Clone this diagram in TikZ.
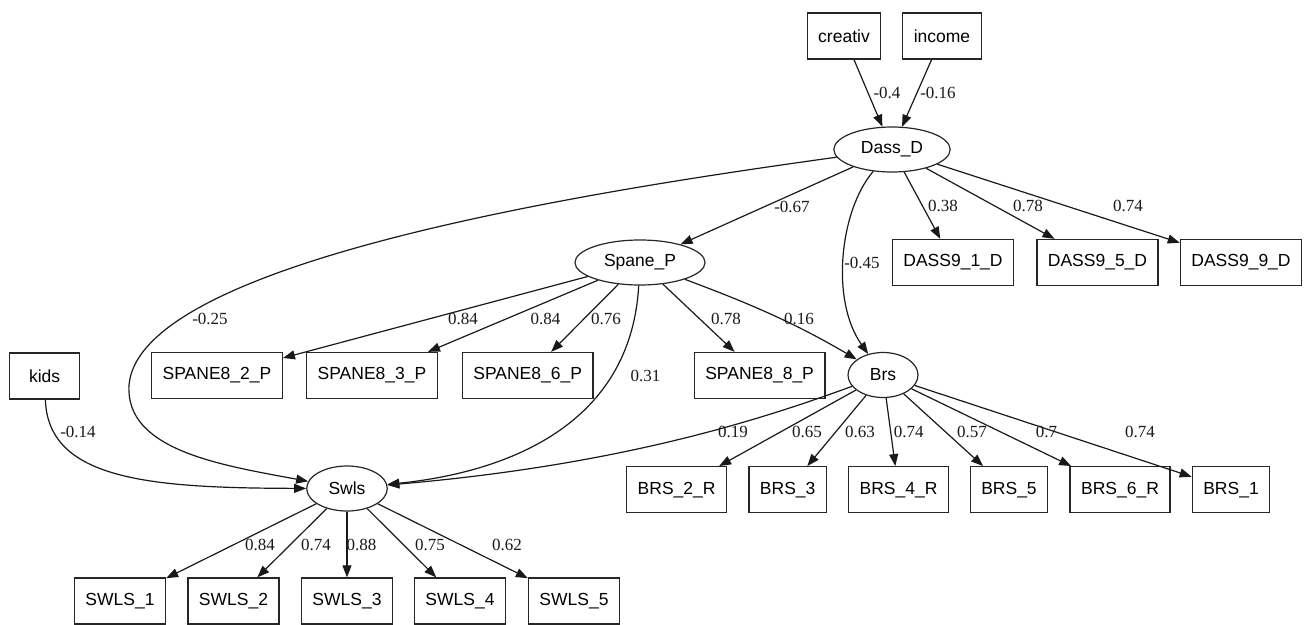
\documentclass[tikz,border=0pt]{standalone}
\usepackage{fontspec}
\setmainfont{Liberation Serif}
\newfontfamily\boxfont{Liberation Sans}
\usetikzlibrary{shapes.geometric}
\usetikzlibrary{arrows.meta}

\tikzset{
  obs/.style={draw=black!85, line width=1.3pt, rectangle, minimum width=70pt,
    minimum height=46pt, inner xsep=11pt, font=\boxfont\fontsize{17.5}{20}\selectfont},
  latent/.style={draw=black!85, line width=1.2pt, ellipse, minimum width=70pt,
    minimum height=45pt, inner xsep=10pt, inner ysep=0pt, font=\boxfont\fontsize{17.5}{20}\selectfont},
  wt/.style={font=\fontsize{17}{20}\selectfont, inner sep=1pt, text=black!90},
  link/.style={->, line width=1.2pt, black!90},
}

\begin{document}
\begin{tikzpicture}[x=1pt, y=-1pt, >={Triangle[length=12pt,width=9pt]}]
        \useasboundingbox (0,0) rectangle (1306,624);

        % exogenous
        \node[obs] (creativ) at (844,36) {creativ};
        \node[obs] (income) at (942,36) {income};
        \node[obs] (kids) at (44.6,376) {kids};

        % latent factors
        \node[latent] (dassd) at (892,149.5) {Dass\_D};
        \node[latent] (spanep) at (640,262.5) {Spane\_P};
        \node[latent] (brs) at (883,375) {Brs};
        \node[latent] (swls) at (347,488.5) {Swls};

        % indicators
        \node[obs] (dass1) at (953,262.5) {DASS9\_1\_D};
        \node[obs] (dass5) at (1097.5,262.5) {DASS9\_5\_D};
        \node[obs] (dass9) at (1241,262.5) {DASS9\_9\_D};

        \node[obs] (sp2) at (217,375.5) {SPANE8\_2\_P};
        \node[obs] (sp3) at (372,375.5) {SPANE8\_3\_P};
        \node[obs] (sp6) at (527.7,375.5) {SPANE8\_6\_P};
        \node[obs] (sp8) at (759.6,375.5) {SPANE8\_8\_P};

        \node[obs] (brs2r) at (676.6,489.7) {BRS\_2\_R};
        \node[obs] (brs3) at (787.7,489.7) {BRS\_3};
        \node[obs] (brs4r) at (898.5,489.7) {BRS\_4\_R};
        \node[obs] (brs5) at (1009,489.7) {BRS\_5};
        \node[obs] (brs6r) at (1120,489.7) {BRS\_6\_R};
        \node[obs] (brs1) at (1231,489.7) {BRS\_1};

        \node[obs] (swls1) at (120,601) {SWLS\_1};
        \node[obs] (swls2) at (233.5,601) {SWLS\_2};
        \node[obs] (swls3) at (347,601) {SWLS\_3};
        \node[obs] (swls4) at (460,601) {SWLS\_4};
        \node[obs] (swls5) at (574,601) {SWLS\_5};

        \draw[link] (creativ) -- (dassd) node[wt] at (887,93) {-0.4};
        \draw[link] (income) -- (dassd) node[wt] at (938,93) {-0.16};

        \draw[link] (dassd) -- (dass1) node[wt] at (943,206) {0.38};
        \draw[link] (dassd) -- (dass5) node[wt] at (1028,206) {0.78};
        \draw[link] (dassd) -- (dass9) node[wt] at (1128,206) {0.74};

        \draw[link] (dassd) -- (spanep) node[wt] at (792,207) {-0.67};
        \draw[link] (dassd) .. controls (840,210) and (830,300) .. (brs) node[wt] at (862,262.5) {-0.45};
        \draw[link] (dassd) .. controls (600,190) and (140,260) .. (129,385)
                            .. controls (125,450) and (220,465) .. (swls) node[wt] at (210,319) {-0.25};

        \draw[link] (spanep) -- (sp2) node[wt] at (463,319) {0.84};
        \draw[link] (spanep) -- (sp3) node[wt] at (545.5,319) {0.84};
        \draw[link] (spanep) -- (sp6) node[wt] at (606,319) {0.76};
        \draw[link] (spanep) -- (sp8) node[wt] at (726,319) {0.78};
        \draw[link] (spanep) .. controls (740,300) and (790,320) .. (brs) node[wt] at (799,319) {0.16};
        \draw[link] (spanep) .. controls (630,440) and (480,475) .. (swls) node[wt] at (645.5,376) {0.31};

        \draw[link] (kids) .. controls (48,480) and (150,488) .. (swls) node[wt] at (78,432) {-0.14};
        \draw[link] (brs) .. controls (760,420) and (620,465) .. (swls) node[wt] at (733,432) {0.19};

        \draw[link] (brs) -- (brs2r) node[wt] at (807,432) {0.65};
        \draw[link] (brs) -- (brs3) node[wt] at (860,432) {0.63};
        \draw[link] (brs) -- (brs4r) node[wt] at (908.7,432) {0.74};
        \draw[link] (brs) -- (brs5) node[wt] at (972,432) {0.57};
        \draw[link] (brs) -- (brs6r) node[wt] at (1046.5,432) {0.7};
        \draw[link] (brs) -- (brs1) node[wt] at (1140,432) {0.74};

        \draw[link] (swls) -- (swls1) node[wt] at (260,545) {0.84};
        \draw[link] (swls) -- (swls2) node[wt] at (316,545) {0.74};
        \draw[link] (swls) -- (swls3) node[wt] at (361.6,545) {0.88};
        \draw[link] (swls) -- (swls4) node[wt] at (430,545) {0.75};
        \draw[link] (swls) -- (swls5) node[wt] at (507,545) {0.62};
\end{tikzpicture}
\end{document}
